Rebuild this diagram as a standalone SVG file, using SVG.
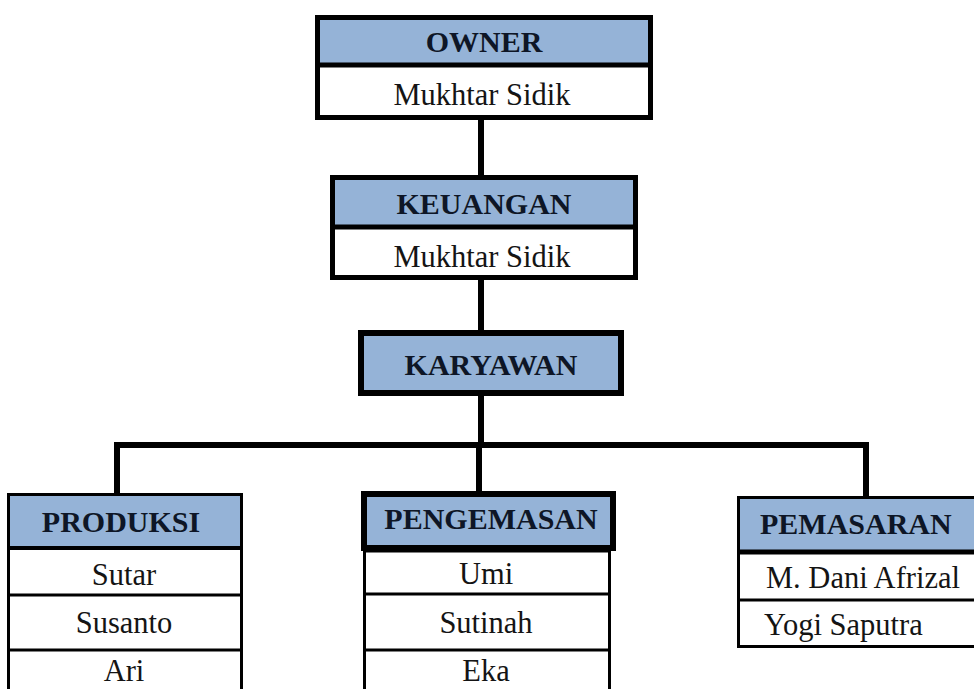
<svg xmlns="http://www.w3.org/2000/svg" width="974" height="689" viewBox="0 0 974 689">
<style>
.hdr{fill:#95b3d7}
.wht{fill:#ffffff}
.thick{fill:none;stroke:#000;stroke-width:5}
.thin{fill:none;stroke:#000;stroke-width:3}
.line{stroke:#000;stroke-width:6;fill:none;stroke-linecap:square}
.h{font-family:"Liberation Serif","Times New Roman",serif;font-weight:bold;font-size:30px;fill:#0e1626}
.n{font-family:"Liberation Serif","Times New Roman",serif;font-size:30.5px;fill:#141414}
.c{text-anchor:middle}
</style>
<rect width="974" height="689" fill="#ffffff"/>
<g id="connectors">
<line class="line" x1="481" y1="120" x2="481" y2="175"/>
<line class="line" x1="481" y1="280" x2="481" y2="330"/>
<line class="line" x1="481" y1="396" x2="481" y2="445"/>
<line class="line" x1="117" y1="445" x2="866" y2="445"/>
<line class="line" x1="117" y1="445" x2="117" y2="493"/>
<line class="line" x1="479" y1="445" x2="479" y2="491"/>
<line class="line" x1="866" y1="445" x2="866" y2="496"/>
</g>
<g id="owner">
<rect class="hdr" x="317.5" y="17.5" width="333" height="48"/>
<rect class="wht" x="317.5" y="65" width="333" height="52.5"/>
<rect class="thick" x="317.5" y="17.5" width="333" height="100"/>
<line x1="317.5" y1="65" x2="650.5" y2="65" stroke="#000" stroke-width="5"/>
<text class="h c" x="484" y="52">OWNER</text>
<text class="n c" x="482" y="105">Mukhtar Sidik</text>
</g>
<g id="keuangan">
<rect class="hdr" x="332.5" y="177.5" width="303" height="50"/>
<rect class="wht" x="332.5" y="227" width="303" height="50.5"/>
<rect class="thick" x="332.5" y="177.5" width="303" height="100"/>
<line x1="332.5" y1="227" x2="635.5" y2="227" stroke="#000" stroke-width="5"/>
<text class="h c" x="484" y="214">KEUANGAN</text>
<text class="n c" x="482" y="267">Mukhtar Sidik</text>
</g>
<g id="karyawan">
<rect class="hdr" x="361" y="333" width="260" height="60"/>
<rect x="361" y="333" width="260" height="60" fill="none" stroke="#000" stroke-width="6"/>
<text class="h c" x="491" y="375">KARYAWAN</text>
</g>
<g id="produksi">
<rect class="hdr" x="8.5" y="494.5" width="233" height="53"/>
<rect class="wht" x="8.5" y="548" width="233" height="145"/>
<rect class="thin" x="8.5" y="494.5" width="233" height="200"/>
<line x1="8.5" y1="548" x2="241.5" y2="548" stroke="#000" stroke-width="4"/>
<line x1="8.5" y1="595" x2="241.5" y2="595" stroke="#000" stroke-width="3"/>
<line x1="8.5" y1="650" x2="241.5" y2="650" stroke="#000" stroke-width="3"/>
<text class="h c" x="121" y="532">PRODUKSI</text>
<text class="n c" x="124" y="585">Sutar</text>
<text class="n c" x="124" y="633">Susanto</text>
<text class="n c" x="124" y="681">Ari</text>
</g>
<g id="pengemasan">
<rect class="wht" x="364.5" y="551" width="245" height="145"/>
<rect class="thin" x="364.5" y="551" width="245" height="145"/>
<line x1="364.5" y1="594" x2="609.5" y2="594" stroke="#000" stroke-width="3"/>
<line x1="364.5" y1="650" x2="609.5" y2="650" stroke="#000" stroke-width="3"/>
<rect class="hdr" x="364" y="494" width="249" height="54"/>
<rect x="364" y="494" width="249" height="54" fill="none" stroke="#000" stroke-width="6"/>
<text class="h c" x="491" y="529">PENGEMASAN</text>
<text class="n c" x="486" y="584">Umi</text>
<text class="n c" x="486" y="633">Sutinah</text>
<text class="n c" x="486" y="681">Eka</text>
</g>
<g id="pemasaran">
<rect class="hdr" x="738.5" y="497.5" width="250" height="54"/>
<rect class="wht" x="738.5" y="552" width="250" height="94.5"/>
<rect class="thin" x="738.5" y="497.5" width="250" height="149"/>
<line x1="738.5" y1="552" x2="988" y2="552" stroke="#000" stroke-width="5"/>
<line x1="738.5" y1="600" x2="988" y2="600" stroke="#000" stroke-width="3"/>
<text class="h" x="760" y="534">PEMASARAN</text>
<text class="n" x="766" y="588">M. Dani Afrizal</text>
<text class="n" x="764" y="635">Yogi Saputra</text>
</g>
</svg>
